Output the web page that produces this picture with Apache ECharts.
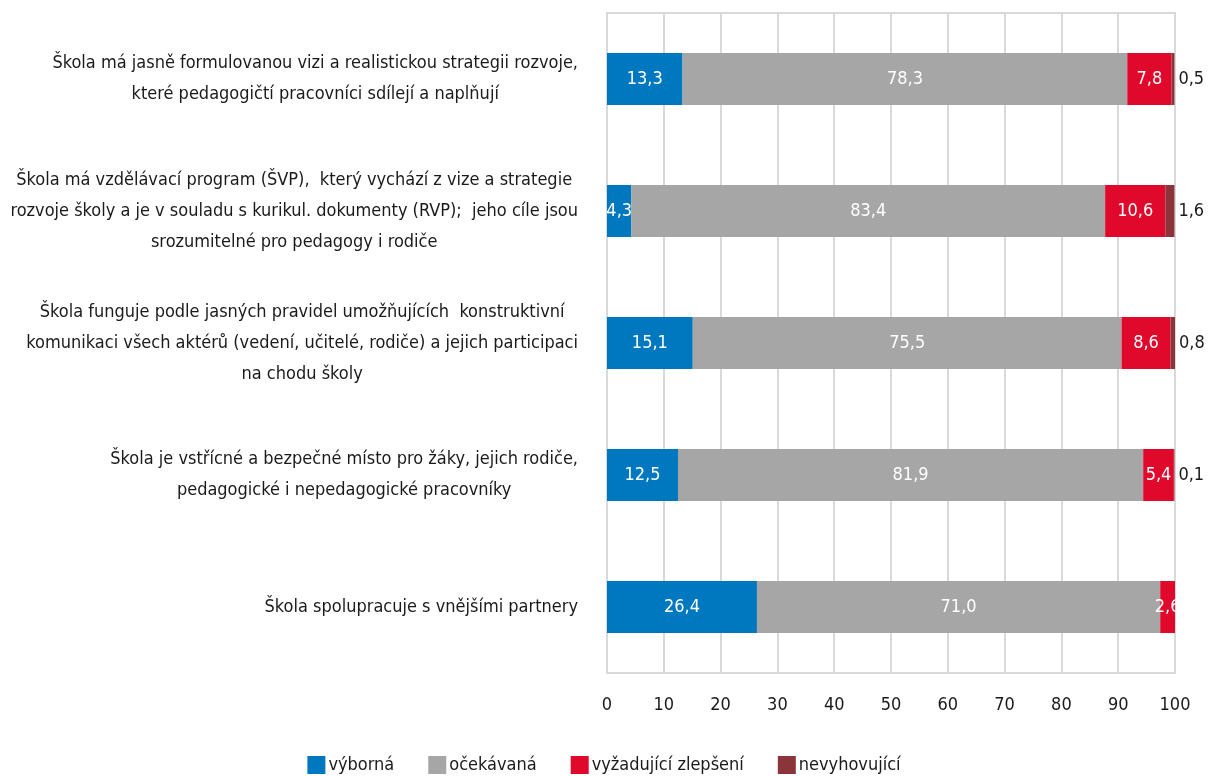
<!DOCTYPE html>
<html lang="cs">
  <head>
    <meta charset="UTF-8" />
    <title>Hodnocení školy</title>
    <script src="https://cdn.jsdelivr.net/npm/echarts@6/dist/echarts.min.js"></script>
    <style>
      body { margin: 0; background: #fff; }
    </style>
  </head>
  <body>
    <div id="main" style="width: 1208px;height:776px;"></div>
    <script type="text/javascript">
      var kategorie = [
        "Škola má jasně formulovanou vizi a realistickou strategii rozvoje,\nkteré pedagogičtí pracovníci sdílejí a naplňují",
        "Škola má vzdělávací program (ŠVP),  který vychází z vize a strategie\nrozvoje školy a je v souladu s kurikul. dokumenty (RVP);  jeho cíle jsou\nsrozumitelné pro pedagogy i rodiče",
        "Škola funguje podle jasných pravidel umožňujících  konstruktivní\nkomunikaci všech aktérů (vedení, učitelé, rodiče) a jejich participaci\nna chodu školy",
        "Škola je vstřícné a bezpečné místo pro žáky, jejich rodiče,\npedagogické i nepedagogické pracovníky",
        "Škola spolupracuje s vnějšími partnery"
      ];
      var vyborna = [13.3, 4.3, 15.1, 12.5, 26.4];
      var ocekavana = [78.3, 83.4, 75.5, 81.9, 71.0];
      var vyzadujici = [7.8, 10.6, 8.6, 5.4, 2.6];
      var nevyhovujici = [0.5, 1.6, 0.8, 0.1, 0];
      var osa = [0, 10, 20, 30, 40, 50, 60, 70, 80, 90, 100];

      var pismo = "'Liberation Sans Narrow', 'DejaVu Sans Condensed', sans-serif";

      function carka(p) {
        if (!p.value) return "";
        return p.value.toFixed(1).replace(".", ",");
      }

      function serie(jmeno, data, barva, naKonci) {
        return {
          name: jmeno,
          type: "bar",
          stack: "celkem",
          barWidth: 52,
          data: data,
          itemStyle: { color: barva },
          label: {
            show: true,
            position: naKonci ? "right" : "inside",
            distance: 4,
            color: naKonci ? "#1a1a1a" : "#fff",
            fontFamily: pismo,
            fontSize: 18,
            formatter: carka
          }
        };
      }

      var myChart = echarts.init(document.getElementById("main"));
      myChart.setOption({
        animation: false,
        textStyle: { fontFamily: pismo },
        grid: {
          left: 607,
          right: 33,
          top: 13,
          bottom: 103,
          outerBoundsMode: "none",
          containLabel: false,
          show: true,
          borderColor: "#d9d9d9",
          borderWidth: 2
        },
        legend: {
          top: 751,
          left: "center",
          itemWidth: 18,
          itemHeight: 18,
          itemGap: 34,
          icon: "rect",
          textStyle: { fontFamily: pismo, fontSize: 18, color: "#1a1a1a", padding: [0, 0, 0, -2] }
        },
        xAxis: {
          type: "value",
          min: 0,
          max: 100,
          interval: 10,
          axisLine: { show: false },
          axisTick: { show: false },
          splitLine: { lineStyle: { color: "#d9d9d9", width: 2 } },
          axisLabel: {
            margin: 23,
            fontSize: 18,
            color: "#1a1a1a",
            fontFamily: pismo,
            formatter: function (v) { return osa.indexOf(v) >= 0 ? String(v) : ""; }
          }
        },
        yAxis: {
          type: "category",
          inverse: true,
          data: kategorie,
          axisLine: { show: false },
          axisTick: { show: false },
          axisLabel: {
            margin: 29,
            align: "right",
            formatter: function (v) {
              return v.split("\n").map(function (r) { return "{c|" + r + "}"; }).join("\n");
            },
            rich: {
              c: {
                align: "center",
                fontSize: 18,
                lineHeight: 31,
                color: "#1a1a1a",
                fontFamily: pismo
              }
            }
          }
        },
        series: [
          serie("výborná", vyborna, "#0078c0", false),
          serie("očekávaná", ocekavana, "#a6a6a6", false),
          serie("vyžadující zlepšení", vyzadujici, "#e0092b", false),
          serie("nevyhovující", nevyhovujici, "#8b343a", true)
        ]
      });
    </script>
  </body>
</html>
